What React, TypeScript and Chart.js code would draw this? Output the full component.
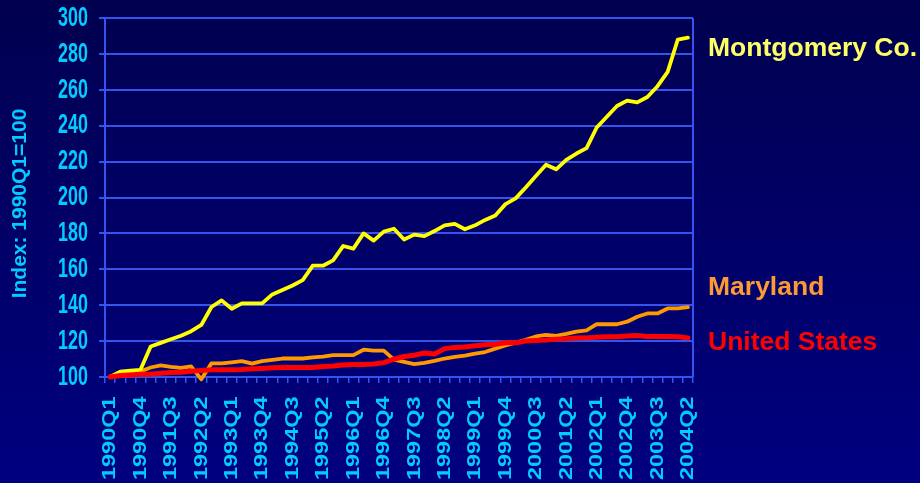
import React, { useEffect, useRef } from "react";
import { Chart, registerables } from "chart.js";

Chart.register(...registerables);

const quarters = [
  "1990Q1", "1990Q2", "1990Q3", "1990Q4",
  "1991Q1", "1991Q2", "1991Q3", "1991Q4",
  "1992Q1", "1992Q2", "1992Q3", "1992Q4",
  "1993Q1", "1993Q2", "1993Q3", "1993Q4",
  "1994Q1", "1994Q2", "1994Q3", "1994Q4",
  "1995Q1", "1995Q2", "1995Q3", "1995Q4",
  "1996Q1", "1996Q2", "1996Q3", "1996Q4",
  "1997Q1", "1997Q2", "1997Q3", "1997Q4",
  "1998Q1", "1998Q2", "1998Q3", "1998Q4",
  "1999Q1", "1999Q2", "1999Q3", "1999Q4",
  "2000Q1", "2000Q2", "2000Q3", "2000Q4",
  "2001Q1", "2001Q2", "2001Q3", "2001Q4",
  "2002Q1", "2002Q2", "2002Q3", "2002Q4",
  "2003Q1", "2003Q2", "2003Q3", "2003Q4",
  "2004Q1", "2004Q2",
];

const xTickLabels = [
  "1990Q1", "1990Q4", "1991Q3", "1992Q2", "1993Q1", "1993Q4", "1994Q3",
  "1995Q2", "1996Q1", "1996Q4", "1997Q3", "1998Q2", "1999Q1", "1999Q4",
  "2000Q3", "2001Q2", "2002Q1", "2002Q4", "2003Q3", "2004Q2",
];

const yTicks = [100, 120, 140, 160, 180, 200, 220, 240, 260, 280, 300];

const montgomery = [
  100, 103, 103.6, 104, 117, 119, 121, 123, 125.5, 129,
  139, 142.7, 138, 141, 141, 141, 146, 148.5, 151, 154,
  162, 162, 165, 173, 171.5, 180, 176, 181, 182.6, 176.6,
  179.3, 178.5, 181.3, 184.5, 185.3, 182.3, 184.5, 187.5, 190, 196.3,
  199.5, 205.6, 212, 218.3, 215.7, 221, 224.5, 227.5, 239, 245,
  251, 254, 253, 256, 262, 270, 288, 289,
];

const maryland = [
  100, 101.9, 102.7, 103, 105.3, 106.5, 105.7, 105.1, 105.9, 98.7,
  107.6, 107.6, 108.2, 108.8, 107.4, 108.8, 109.5, 110.3, 110.3, 110.3,
  110.9, 111.4, 112.2, 112.2, 112.2, 115.2, 114.7, 114.7, 109.7, 108.4,
  107.2, 107.9, 109, 110.3, 111.2, 111.9, 113, 113.9, 115.8, 117.6,
  119.1, 120.7, 122.6, 123.5, 122.9, 124, 125.3, 126, 129.4, 129.4,
  129.4, 130.8, 133.6, 135.4, 135.4, 138.2, 138.2, 138.9,
];

const unitedStates = [
  100, 100.8, 101.1, 101.5, 101.5, 102.1, 102.5, 102.7, 103.2, 103.6,
  104, 104, 104, 104.2, 104.6, 104.8, 105.1, 105.3, 105.3, 105.3,
  105.3, 105.9, 106.1, 106.7, 107, 107, 107.2, 108, 109.9, 111.4,
  112.1, 113.4, 112.8, 115.8, 116.5, 116.7, 117.4, 118, 118.2, 119.1,
  119.1, 120, 120.4, 120.6, 121.1, 121.3, 121.7, 121.8, 122.2, 122.4,
  122.4, 122.9, 123.1, 122.6, 122.6, 122.6, 122.4, 121.8,
];

const yTitle = "Index: 1990Q1=100";

const GRID = "#3355ee";
const CYAN = "#00ccff";
const FONT = '"Liberation Sans", Arial, Helvetica, sans-serif';

const axisTextPlugin = {
  id: "axisText",
  beforeDatasetsDraw(chart: any) {
    const { ctx, chartArea } = chart;
    ctx.save();
    ctx.strokeStyle = GRID;
    ctx.lineWidth = 2;
    ctx.beginPath();
    ctx.moveTo(chartArea.right, chartArea.top);
    ctx.lineTo(chartArea.right, chartArea.bottom);
    ctx.stroke();
    ctx.restore();
  },
  afterDraw(chart: any) {
    const { ctx, chartArea } = chart;
    const xs = chart.scales.x;
    const ys = chart.scales.y;
    ctx.save();
    ctx.fillStyle = CYAN;

    // y tick labels (condensed)
    ctx.font = "bold 28px " + FONT;
    ctx.textAlign = "right";
    ctx.textBaseline = "middle";
    yTicks.forEach((v) => {
      const py = ys.getPixelForValue(v);
      ctx.save();
      ctx.translate(chartArea.left - 17, py);
      ctx.scale(0.64, 1);
      ctx.fillText(String(v), 0, 0);
      ctx.restore();
    });

    // x tick labels (rotated, stretched along the text)
    ctx.font = "bold 17.5px " + FONT;
    ctx.textAlign = "left";
    ctx.textBaseline = "middle";
    xTickLabels.forEach((lbl) => {
      const idx = quarters.indexOf(lbl);
      const px = xs.getPixelForValue(idx);
      ctx.save();
      ctx.translate(px + 0.5, chartArea.bottom + 103);
      ctx.rotate(-Math.PI / 2);
      ctx.scale(1.34, 1);
      ctx.fillText(lbl, 0, 0);
      ctx.restore();
    });

    // y axis title
    ctx.font = "bold 21px " + FONT;
    ctx.textAlign = "center";
    ctx.textBaseline = "middle";
    ctx.save();
    ctx.translate(20, (chartArea.top + chartArea.bottom) / 2 + 6);
    ctx.rotate(-Math.PI / 2);
    ctx.fillText(yTitle, 0, 0);
    ctx.restore();

    ctx.restore();
  },
};

export default function App() {
  const canvasRef = useRef<HTMLCanvasElement | null>(null);

  useEffect(() => {
    const canvas = canvasRef.current;
    if (!canvas) return;
    const chart = new Chart(canvas, {
      type: "line",
      data: {
        labels: quarters,
        datasets: [
          {
            label: "United States",
            data: unitedStates,
            borderColor: "#ff0000",
            borderWidth: 5,
            order: 0,
          },
          {
            label: "Montgomery Co.",
            data: montgomery,
            borderColor: "#ffff00",
            borderWidth: 3.8,
            order: 1,
          },
          {
            label: "Maryland",
            data: maryland,
            borderColor: "#ff9900",
            borderWidth: 3.8,
            order: 2,
          },
        ].map((d) => ({
          ...d,
          fill: false,
          tension: 0,
          pointRadius: 0,
          pointHoverRadius: 0,
          borderJoinStyle: "round" as const,
          borderCapStyle: "round" as const,
          clip: 8,
        })),
      },
      options: {
        responsive: false,
        animation: false,
        events: [],
        layout: { padding: { top: 18, right: 227, bottom: 0, left: 0 } },
        plugins: {
          legend: { display: false },
          tooltip: { enabled: false },
          title: { display: false },
        },
        scales: {
          x: {
            type: "category",
            offset: true,
            grid: {
              display: true,
              drawOnChartArea: false,
              drawTicks: true,
              tickLength: 6,
              color: GRID,
              lineWidth: 1.5,
              offset: true,
            },
            border: { display: true, color: GRID, width: 2 },
            ticks: { display: false, autoSkip: false },
            afterFit: (s: any) => {
              s.height = 106;
            },
          },
          y: {
            min: 100,
            max: 300,
            ticks: { display: false, stepSize: 20 },
            grid: {
              color: GRID,
              lineWidth: 2,
              drawTicks: true,
              tickLength: 6,
            },
            border: { display: true, color: GRID, width: 2 },
            afterFit: (s: any) => {
              s.width = 105;
            },
          },
        },
      },
      plugins: [axisTextPlugin],
    });
    return () => chart.destroy();
  }, []);

  const labelStyle: React.CSSProperties = {
    position: "absolute",
    left: 708,
    fontFamily: FONT,
    fontWeight: "bold",
    fontSize: "26.5px",
    lineHeight: "26px",
    whiteSpace: "nowrap",
    margin: 0,
  };

  return (
    <div
      style={{
        position: "fixed",
        left: 0,
        top: 0,
        width: 920,
        height: 483,
        overflow: "hidden",
        background: "linear-gradient(#00004f, #000080)",
      }}
    >
      <canvas ref={canvasRef} width={920} height={483} style={{ display: "block" }} />
      <div style={{ ...labelStyle, top: 34, color: "#ffff66" }}>Montgomery Co.</div>
      <div style={{ ...labelStyle, top: 273, color: "#ff9933" }}>Maryland</div>
      <div style={{ ...labelStyle, top: 328, color: "#ff0000" }}>United States</div>
    </div>
  );
}
